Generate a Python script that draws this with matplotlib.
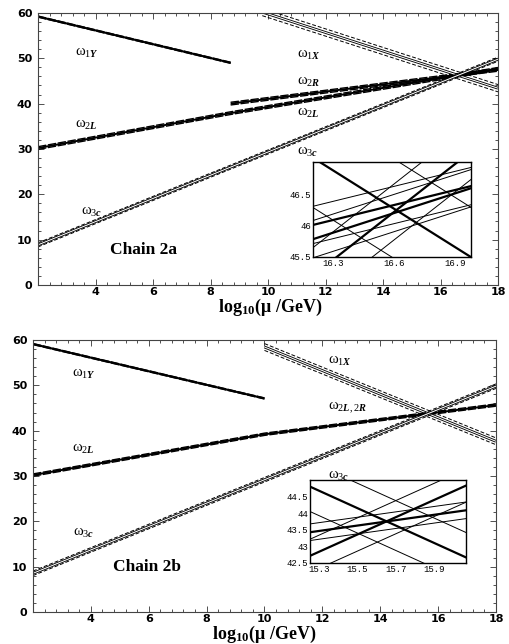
import numpy as np
import matplotlib
matplotlib.use("Agg")
import matplotlib.pyplot as plt
from matplotlib.ticker import MultipleLocator

plt.rcParams['mathtext.fontset'] = 'custom'
plt.rcParams['mathtext.rm'] = 'Liberation Serif'
plt.rcParams['mathtext.it'] = 'Liberation Serif:italic:bold'
plt.rcParams['mathtext.bf'] = 'Liberation Serif:bold'

# ---- chain 2a : (log10 mu, omega) break points of the central lines ----
x1Y_a = [2.0, 8.7];        w1Y_a = [59.2, 49.0]
x2L_a = [2.0, 8.7, 18.0];  w2L_a = [30.2, 37.9, 47.67]
x2R_a = [8.7, 18.0];       w2R_a = [40.0, 47.45]
x1X_a = [9.8, 18.0];       w1X_a = [60.2, 43.4]
x3c_a = [2.0, 18.0];       w3c_a = [8.85, 49.8]
err_a = {'1Y': 0.12, '2L': 0.3, '2R': 0.3, '1X': 0.8, '3c': 0.45}

# ---- chain 2b ----
x1Y_b = [2.0, 10.0];       w1Y_b = [59.1, 47.1]
x2L_b = [2.0, 10.0, 18.0]; w2L_b = [30.2, 39.2, 45.64]
x1X_b = [10.0, 18.0];      w1X_b = [58.45, 37.65]
x3c_b = [2.0, 18.0];       w3c_b = [8.53, 49.81]
err_b = {'1Y': 0.12, '2L': 0.25, '1X': 0.75, '3c': 0.5}

xticks = [4, 6, 8, 10, 12, 14, 16, 18]
yticks = [0, 10, 20, 30, 40, 50, 60]


def thick(ax, x, y, e, lw=1.4):
    x = np.array(x); y = np.array(y)
    ax.plot(x, y, color='k', lw=lw, solid_capstyle='butt')
    ax.plot(x, y + e, color='k', lw=1.0, dashes=(6, 1.2))
    ax.plot(x, y - e, color='k', lw=1.0, dashes=(6, 1.2))


def hollow(ax, x, y, e):
    x = np.array(x); y = np.array(y)
    ax.plot(x, y, color='k', lw=2.0, solid_capstyle='butt')
    ax.plot(x, y, color='w', lw=0.75, solid_capstyle='butt')
    ax.plot(x, y + e, color='k', lw=0.7, dashes=(4, 2))
    ax.plot(x, y - e, color='k', lw=0.7, dashes=(4, 2))


def inset_lines(ax, x, y, e):
    x = np.array(x); y = np.array(y)
    ax.plot(x, y, color='k', lw=1.6)
    ax.plot(x, y + e, color='k', lw=0.7)
    ax.plot(x, y - e, color='k', lw=0.7)


def setup_main(ax):
    ax.set_xlim(2, 18)
    ax.set_ylim(0, 60)
    ax.set_xticks(xticks)
    ax.set_yticks(yticks)
    ax.xaxis.set_minor_locator(MultipleLocator(0.4))
    ax.yaxis.set_minor_locator(MultipleLocator(2))
    ax.tick_params(which='both', direction='in', top=True, right=True,
                   color='#333333', width=0.6)
    ax.tick_params(which='major', length=4)
    ax.tick_params(which='minor', length=2)
    ax.tick_params(axis='x', pad=1.5)
    ax.tick_params(axis='y', pad=4)
    for lab in ax.get_xticklabels() + ax.get_yticklabels():
        lab.set_fontfamily('DejaVu Sans')
        lab.set_fontweight('bold')
        lab.set_fontsize(8)
    for s in ax.spines.values():
        s.set_linewidth(0.8)
        s.set_color('#444444')


def setup_inset(ax, xl, yl, xt, yt, ytl):
    ax.set_xlim(*xl)
    ax.set_ylim(*yl)
    ax.set_xticks(xt)
    ax.set_xticklabels([str(v) for v in xt])
    ax.set_yticks(yt)
    ax.set_yticklabels(ytl)
    ax.tick_params(length=0, pad=1.5)
    for lab in ax.get_xticklabels() + ax.get_yticklabels():
        lab.set_fontfamily('Liberation Mono')
        lab.set_fontsize(6.5)
    for s in ax.spines.values():
        s.set_linewidth(1.0)


def lab(ax, x, y, sub):
    ax.text(x, y, r'$\mathrm{\omega}_{\mathit{' + sub + '}}$', fontsize=10.5,
            ha='left', va='center')


fig = plt.figure(figsize=(5.09, 6.44), dpi=100)

# ================= chain 2a =================
ax1 = fig.add_axes([0.0747, 0.5575, 0.9037, 0.4224])
setup_main(ax1)
thick(ax1, x1Y_a, w1Y_a, err_a['1Y'], lw=1.5)
thick(ax1, x2L_a, w2L_a, err_a['2L'])
thick(ax1, x2R_a, w2R_a, err_a['2R'])
hollow(ax1, x1X_a, w1X_a, err_a['1X'])
hollow(ax1, x3c_a, w3c_a, err_a['3c'])
lab(ax1, 3.3, 51.3, '1Y')
lab(ax1, 3.3, 35.3, '2L')
lab(ax1, 3.5, 16.1, '3c')
lab(ax1, 11.0, 50.9, '1X')
lab(ax1, 11.0, 44.8, '2R')
lab(ax1, 11.0, 38.0, '2L')
lab(ax1, 11.0, 29.4, '3c')
ax1.text(4.5, 7.7, 'Chain 2a', family='Liberation Serif', weight='bold',
         fontsize=12.5, ha='left', va='center')

in1 = fig.add_axes([0.615, 0.6017, 0.3104, 0.1467])
setup_inset(in1, (16.2, 16.98), (45.5, 47.02), [16.3, 16.6, 16.9],
            [45.5, 46, 46.5], ['45.5', '46', '46.5'])
inset_lines(in1, x2L_a, w2L_a, err_a['2L'])
inset_lines(in1, x2R_a, w2R_a, err_a['2R'])
inset_lines(in1, x1X_a, w1X_a, err_a['1X'])
inset_lines(in1, x3c_a, w3c_a, err_a['3c'])

fig.text(0.530, 0.522, r'$\mathbf{log}_{\mathbf{10}}\mathbf{(\mu\ /GeV)}$',
         fontsize=13, ha='center', va='center')

# ================= chain 2b =================
ax2 = fig.add_axes([0.0648, 0.0497, 0.9096, 0.4224])
setup_main(ax2)
thick(ax2, x1Y_b, w1Y_b, err_b['1Y'], lw=1.5)
thick(ax2, x2L_b, w2L_b, err_b['2L'])
hollow(ax2, x1X_b, w1X_b, err_b['1X'])
hollow(ax2, x3c_b, w3c_b, err_b['3c'])
lab(ax2, 3.35, 52.7, '1Y')
lab(ax2, 3.35, 36.0, '2L')
lab(ax2, 3.4, 17.6, '3c')
lab(ax2, 12.2, 55.4, '1X')
lab(ax2, 12.2, 45.0, '2L,2R')
lab(ax2, 12.2, 30.2, '3c')
ax2.text(4.76, 9.9, 'Chain 2b', family='Liberation Serif', weight='bold',
         fontsize=12.5, ha='left', va='center')

in2 = fig.add_axes([0.609, 0.1258, 0.3065, 0.1289])
setup_inset(in2, (15.25, 16.07), (42.5, 45.0), [15.3, 15.5, 15.7, 15.9],
            [42.5, 43, 43.5, 44, 44.5], ['42.5', '43', '43.5', '44', '44.5'])
inset_lines(in2, x2L_b, w2L_b, err_b['2L'])
inset_lines(in2, x1X_b, w1X_b, err_b['1X'])
inset_lines(in2, x3c_b, w3c_b, err_b['3c'])

fig.text(0.519, 0.015, r'$\mathbf{log}_{\mathbf{10}}\mathbf{(\mu\ /GeV)}$',
         fontsize=13, ha='center', va='center')

plt.savefig('out.png', dpi=100)
